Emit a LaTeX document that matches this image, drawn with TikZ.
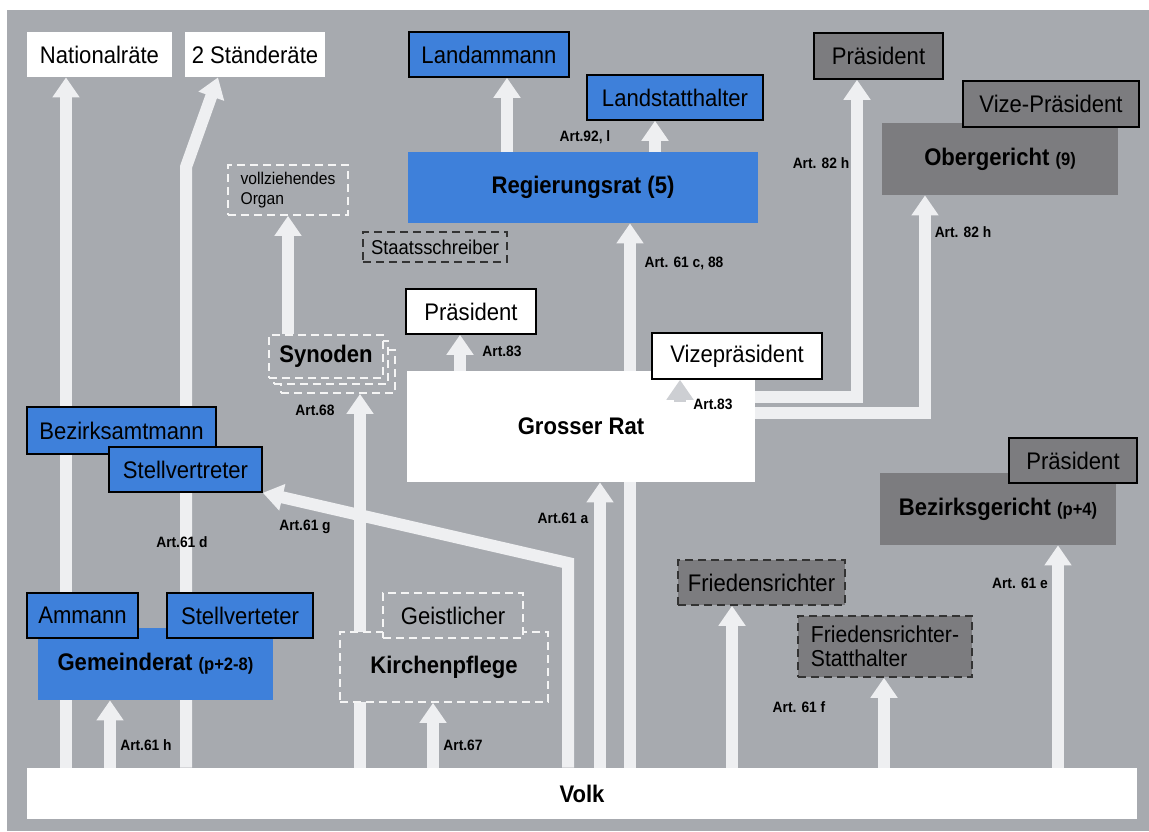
\documentclass[tikz,border=0pt]{standalone}
\usepackage{fontspec}
\setmainfont{Liberation Sans}[FakeStretch=0.92]
\usepackage{tikz}
\usetikzlibrary{arrows.meta,calc,positioning}

\definecolor{bgrey}{RGB}{167,170,175}
\definecolor{kblue}{RGB}{62,128,218}
\definecolor{dgrey}{RGB}{124,124,127}
\definecolor{pfeil}{RGB}{238,239,241}
\definecolor{pfeilgr}{RGB}{205,207,211}

\pgfdeclarelayer{back}
\pgfdeclarelayer{pfeile}
\pgfsetlayers{back,pfeile,main}

\tikzset{
bluebox/.style={
  rectangle,
  fill=kblue,
  inner sep=0pt,
  align=center,
  font=\fontsize{12}{14}\selectfont,
  }
}
\tikzset{
whitebox/.style={
  rectangle,
  fill=white,
  inner sep=0pt,
  align=center,
  font=\fontsize{12}{14}\selectfont,
  }
}
\tikzset{
greybox/.style={
  rectangle,
  fill=dgrey,
  inner sep=0pt,
  align=center,
  font=\fontsize{12}{14}\selectfont,
  }
}
\tikzset{
framed/.style={
  draw=black,
  line width=0.8pt,
  }
}
\tikzset{
dashwhite/.style={
  rectangle,
  fill=bgrey,
  draw=white!92!gray,
  line width=0.9pt,
  dash pattern=on 4pt off 2.5pt,
  inner sep=0pt,
  font=\fontsize{12}{14}\selectfont,
  }
}
\tikzset{
dashdark/.style={
  rectangle,
  draw=black!80,
  line width=0.8pt,
  dash pattern=on 4pt off 2.5pt,
  inner sep=0pt,
  font=\fontsize{12}{14}\selectfont,
  }
}
\tikzset{
artlabel/.style={
  inner sep=0pt,
  font=\fontsize{7.5}{9}\selectfont\bfseries,
  }
}
\tikzset{
bigline/.style={
  line width=6pt,
  draw=pfeil,
  line join=miter,
  -{Triangle[width=13pt,length=10pt]}
  }
}

\begin{document}
\begin{tikzpicture}[x=0.5pt,y=-0.5pt]
    \useasboundingbox (0,0) rectangle (1149,831);
    \begin{pgfonlayer}{back}
    \fill[bgrey] (7,10) rectangle (1149,831);
    \end{pgfonlayer}

    % Bund
    \node[whitebox, minimum width=72.5pt, minimum height=22.5pt] (nationalraete) at (99.5,54.5) {Nationalräte};
    \node[whitebox, minimum width=70pt, minimum height=22.5pt] (staenderaete) at (255,54.5) {2 Ständeräte};

    % Regierung
    \node[bluebox, framed, minimum width=80pt, minimum height=22.5pt] (landammann) at (489,54.5) {Landammann};
    \node[bluebox, framed, minimum width=88pt, minimum height=22.5pt] (landstatthalter) at (675,97.5) {Landstatthalter};
    \node[bluebox, minimum width=175pt, minimum height=35.5pt, font=\fontsize{12}{14}\selectfont\bfseries] (regierungsrat) at (583,187.5) {Regierungsrat (5)};
    \node[dashdark, minimum width=72pt, minimum height=15pt, font=\fontsize{10}{12}\selectfont] (staatsschreiber) at (435,247) {Staatsschreiber};

    % Obergericht
    \node[greybox, framed, minimum width=64.5pt, minimum height=23pt] (ogpraes) at (878.5,56) {Präsident};
    \node[greybox, minimum width=118pt, minimum height=36pt] (obergericht) at (1000,159) {\textbf{Obergericht} {\fontsize{9}{10}\selectfont\bfseries (9)}};
    \node[greybox, framed, minimum width=88pt, minimum height=23pt] (ogvize) at (1051,104) {Vize-Präsident};

    % Grosser Rat
    \node[whitebox, minimum width=174pt, minimum height=55.5pt, font=\fontsize{12}{14}\selectfont\bfseries] (grosserrat) at (581,426.5) {Grosser Rat};
    \node[whitebox, framed, minimum width=65pt, minimum height=22.5pt] (grpraes) at (471,311.5) {Präsident};
    \node[whitebox, framed, minimum width=85pt, minimum height=23pt] (grvize) at (737,356) {Vizepräsident};

    % Kirche
    \node[dashwhite, minimum width=60pt, minimum height=25pt, align=left, font=\fontsize{8.5}{10}\selectfont] (organ) at (288,190) {vollziehendes\\Organ};
    \node[dashwhite, minimum width=57pt, minimum height=21.5pt] (synodenc) at (338,371.5) {};
    \node[dashwhite, minimum width=57pt, minimum height=21.5pt] (synodenb) at (331,362.5) {};
    \node[dashwhite, minimum width=57pt, minimum height=21.5pt, font=\fontsize{12}{14}\selectfont\bfseries] (synoden) at (326,356.5) {Synoden};
    \node[dashwhite, minimum width=104pt, minimum height=35pt, font=\fontsize{12}{14}\selectfont\bfseries] (kirchenpflege) at (444,667) {Kirchenpflege};
    \node[dashwhite, minimum width=70pt, minimum height=22.5pt] (geistlicher) at (453,615.5) {Geistlicher};

    % Bezirk
    \node[bluebox, framed, minimum width=94.5pt, minimum height=23.5pt] (bezamt) at (121.5,430.5) {Bezirksamtmann};
    \node[bluebox, framed, minimum width=76.5pt, minimum height=22.5pt] (stellvbez) at (185.5,469.5) {Stellvertreter};
    \node[greybox, minimum width=118pt, minimum height=36pt] (bezgericht) at (998,509) {\textbf{Bezirksgericht} {\fontsize{9}{10}\selectfont\bfseries (p+4)}};
    \node[greybox, framed, minimum width=64pt, minimum height=22.5pt] (bgpraes) at (1073,460.5) {Präsident};
    \node[greybox, dashdark, minimum width=83.5pt, minimum height=22.5pt] (friedensrichter) at (761.5,582.5) {Friedensrichter};
    \node[greybox, dashdark, minimum width=87pt, minimum height=30.5pt, align=left, font=\fontsize{11.5}{12}\selectfont] (frstatthalter) at (885,646.5) {Friedensrichter-\\Statthalter};

    % Gemeinde
    \node[bluebox, minimum width=117.5pt, minimum height=36pt] (gemeinderat) at (155.5,664) {\textbf{Gemeinderat} {\fontsize{9}{10}\selectfont\bfseries (p+2-8)}};
    \node[bluebox, framed, minimum width=55.5pt, minimum height=22.5pt] (ammann) at (82.5,615.5) {Ammann};
    \node[bluebox, framed, minimum width=73pt, minimum height=22.5pt] (stellvgem) at (240,615.5) {Stellverteter};

    % Volk
    \node[whitebox, minimum width=555pt, minimum height=25.5pt, font=\fontsize{12}{14}\selectfont\bfseries] (volk) at (582,793.5) {Volk};

    % Pfeil-Spalten
    \coordinate (anat) at (66,0);
    \coordinate (astand) at (186,167);
    \coordinate (astandtop) at (218,0);
    \coordinate (a61h) at (110,0);
    \coordinate (a68) at (360,0);
    \coordinate (aorgan) at (288,0);
    \coordinate (a67) at (433,0);
    \coordinate (a61g) at (568,563);
    \coordinate (a61a) at (600,0);
    \coordinate (a61c) at (630,0);
    \coordinate (a92a) at (507,0);
    \coordinate (a92b) at (655,0);
    \coordinate (a83a) at (460,0);
    \coordinate (a83b) at (680,402);
    \coordinate (a82a) at (857,397);
    \coordinate (a82b) at (925,413);
    \coordinate (a61f1) at (732,0);
    \coordinate (a61f2) at (884,0);
    \coordinate (a61e) at (1058,0);

    \begin{pgfonlayer}{pfeile}
    % Volk edges
    \draw[bigline] (volk.north -| anat) -- (nationalraete.south -| anat);
    \draw[bigline] (volk.north -| astand) -- (astand) -- (staenderaete.south -| astandtop);
    \draw[bigline] (volk.north -| a61h) -- (gemeinderat.south -| a61h);
    \draw[bigline] (volk.north -| a68) -- (synodenc.south -| a68);
    \draw[bigline] (volk.north -| a67) -- (kirchenpflege.south -| a67);
    \draw[bigline] (volk.north -| a61g) -- (a61g) -- (stellvbez.south east);
    \draw[bigline] (volk.north -| a61a) -- (grosserrat.south -| a61a);
    \draw[bigline] (volk.north -| a61c) -- (regierungsrat.south -| a61c);
    \draw[bigline] (volk.north -| a61f1) -- (friedensrichter.south -| a61f1);
    \draw[bigline] (volk.north -| a61f2) -- (frstatthalter.south -| a61f2);
    \draw[bigline] (volk.north -| a61e) -- (bezgericht.south -| a61e);

    % Rat edges
    \draw[bigline] (synoden.north -| aorgan) -- (organ.south -| aorgan);
    \draw[bigline] (regierungsrat.north -| a92a) -- (landammann.south -| a92a);
    \draw[bigline] (regierungsrat.north -| a92b) -- (landstatthalter.south -| a92b);
    \draw[bigline] (grosserrat.north -| a83a) -- (grpraes.south -| a83a);
    \draw[bigline] (grosserrat.east |- a82a) -- (a82a) -- (ogpraes.south -| a82a);
    \draw[bigline] (grosserrat.east |- a82b) -- (a82b) -- (obergericht.south -| a82b);
    \end{pgfonlayer}
    \draw[bigline, draw=pfeilgr] (a83b) -- (grvize.south -| a83b);

    % Artikel
    \node[artlabel] (l92) at (585,137) {Art.92, l};
    \node[artlabel] (l61c) at (684,263) {Art. 61 c, 88};
    \node[artlabel] (l82a) at (821,163) {Art. 82 h};
    \node[artlabel] (l82b) at (963,232) {Art. 82 h};
    \node[artlabel] (l83a) at (502,351) {Art.83};
    \node[artlabel] (l83b) at (713,404) {Art.83};
    \node[artlabel] (l68) at (315,410) {Art.68};
    \node[artlabel] (l61g) at (305,527) {Art.61 g};
    \node[artlabel] (l61d) at (182,542) {Art.61 d};
    \node[artlabel] (l61a) at (563,518) {Art.61 a};
    \node[artlabel] (l61h) at (146,745) {Art.61 h};
    \node[artlabel] (l67) at (463,745) {Art.67};
    \node[artlabel] (l61f) at (799,707) {Art. 61 f};
    \node[artlabel] (l61e) at (1020,583) {Art. 61 e};
\end{tikzpicture}
\end{document}
